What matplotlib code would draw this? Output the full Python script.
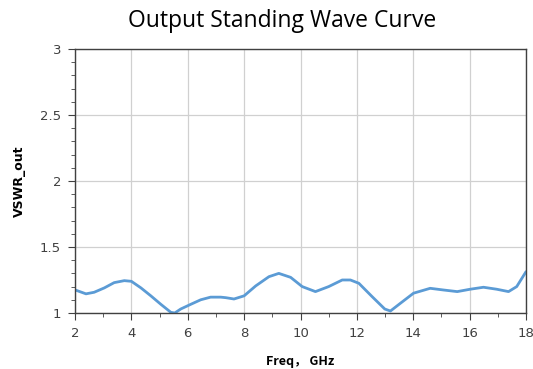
import matplotlib

matplotlib.use("Agg")

import matplotlib.pyplot as plt
from matplotlib.ticker import MultipleLocator

# VSWR
freq_ghz = [2.0, 2.39, 2.68, 3.04, 3.39, 3.75, 4.0, 4.34, 4.69, 5.05, 5.4, 5.54,
            5.75, 6.1, 6.46, 6.81, 7.17, 7.35, 7.64, 8.0, 8.41, 8.88, 9.23, 9.65,
            10.06, 10.53, 11.0, 11.48, 11.77, 12.07, 12.54, 12.99, 13.19, 13.54,
            14.01, 14.6, 15.08, 15.56, 16.02, 16.49, 16.96, 17.38, 17.67, 18.0]
vswr_out = [1.175, 1.145, 1.157, 1.19, 1.23, 1.245, 1.24, 1.19, 1.13, 1.065, 1.005, 1.0,
            1.03, 1.065, 1.1, 1.12, 1.12, 1.116, 1.106, 1.13, 1.205, 1.275, 1.30, 1.27,
            1.2, 1.162, 1.2, 1.25, 1.25, 1.225, 1.124, 1.03, 1.015, 1.073,
            1.15, 1.187, 1.174, 1.162, 1.18, 1.195, 1.18, 1.162, 1.2, 1.313]

fig = plt.figure(figsize=(5.33, 3.69), dpi=100)
ax = fig.add_axes([0.1407, 0.1518, 0.8462, 0.7154])

ax.plot(freq_ghz, vswr_out, color="#5B9BD5", lw=2, solid_capstyle="round",
        solid_joinstyle="round")

ax.set_xlim(2, 18)
ax.set_ylim(1, 3)
ax.xaxis.set_major_locator(MultipleLocator(2))
ax.xaxis.set_minor_locator(MultipleLocator(1))
ax.yaxis.set_major_locator(MultipleLocator(0.5))
ax.yaxis.set_minor_locator(MultipleLocator(0.1))
ax.set_yticks([1, 1.5, 2, 2.5, 3], ["1", "1.5", "2", "2.5", "3"])

ax.grid(True, which="major", color="#D0D0D0", lw=0.9)
ax.set_axisbelow(True)
for sp in ax.spines.values():
    sp.set_color("#404040")
    sp.set_linewidth(1.0)
ax.tick_params(which="major", direction="out", length=5, color="#404040",
               labelsize=9.5, labelcolor="#404040", pad=5)
ax.tick_params(which="minor", direction="out", length=3, color="#404040")

ax.set_xlabel("Freq， GHz", family=["Noto Sans CJK SC", "DejaVu Sans"],
              fontweight="bold", fontsize=9, labelpad=11)
ax.set_ylabel("VSWR_out", fontweight="bold", fontsize=9, labelpad=10)
fig.suptitle("Output Standing Wave Curve", family="Open Sans", fontsize=16.5,
             color="black", x=0.53, y=0.975)

fig.savefig("out.png", dpi=100)
